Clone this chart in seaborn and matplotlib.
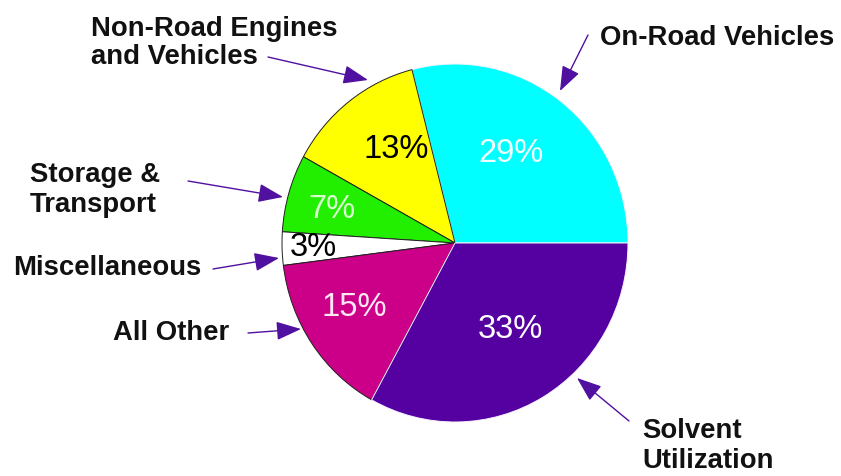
import matplotlib
matplotlib.use("Agg")
import matplotlib.pyplot as plt
import seaborn as sns

# VOC emission sources (percent of total)
sources = ["On-Road Vehicles", "Non-Road Engines\nand Vehicles", "Storage &\nTransport",
           "Miscellaneous", "All Other", "Solvent\nUtilization"]
shares = [29, 13, 7, 3, 15, 33]
colors = ["#00FFFF", "#FFFF00", "#22EE00", "#FFFFFF", "#CC0088", "#5500A0"]
pct_colors = ["#F0FFFF", "#000000", "#D8FFD0", "#000000", "#FFE8F4", "#FFFFFF"]

sns.set_theme(style="white")
plt.rcParams["font.family"] = ["Liberation Sans", "DejaVu Sans"]

W, H = 841, 476
fig = plt.figure(figsize=(W / 100, H / 100), dpi=100)
ax = fig.add_axes([0, 0, 1, 1])

# pixel-based data space; the y axis is scaled so the pie is slightly taller than wide
RX, RY = 173.0, 179.0
k = RX / RY
cx, cy = 455.0, 243.0
wedges, _ = ax.pie(shares, colors=colors, startangle=0, counterclock=True,
                   radius=RX, center=(cx, (H - cy) * k),
                   wedgeprops=dict(linewidth=0.7, edgecolor="#202020"))
for w, c in zip(wedges, colors):
    if c in ("#00FFFF", "#5500A0"):
        w.set_edgecolor("#F4F4FF")
ax.set_aspect("auto")
ax.set_xlim(0, W)
ax.set_ylim(0, H * k)
ax.axis("off")


def fpos(x, y):
    return (x / W, 1 - y / H)


# percentage labels inside the wedges
pct_pos = [(511, 153), (396, 150), (332, 210), (313, 247), (354, 308), (510, 330)]
for v, (x, y), c in zip(shares, pct_pos, pct_colors):
    fig.text(*fpos(x, y), f"{v}%", color=c, fontsize=23.5, ha="center", va="center")

# category labels with arrows
arrow_color = "#5010A0"
label_specs = [
    # text anchor, ha, arrow start, arrow tip
    ((600, 38), "left", (588, 35), (560, 91)),
    ((91, 43), "left", (268, 57), (368, 80)),
    ((30, 190), "left", (188, 181), (283, 197)),
    ((13, 268), "left", (213, 269), (279, 258)),
    ((113, 333), "left", (248, 333), (301, 329)),
    ((642, 446), "left", (629, 421), (577, 378)),
]
for name, (tpos, ha, start, tip) in zip(sources, label_specs):
    fig.text(*fpos(*tpos), name, fontsize=19.8, fontweight="bold", ha=ha, va="center",
             color="#111111", linespacing=1.15)
    ax.annotate("", xy=fpos(*tip), xycoords="figure fraction",
                xytext=fpos(*start), textcoords="figure fraction",
                arrowprops=dict(arrowstyle="-|>,head_length=0.85,head_width=0.32",
                                mutation_scale=18, color=arrow_color, lw=1.0,
                                shrinkA=0, shrinkB=0))

fig.savefig("out.png", dpi=100)
